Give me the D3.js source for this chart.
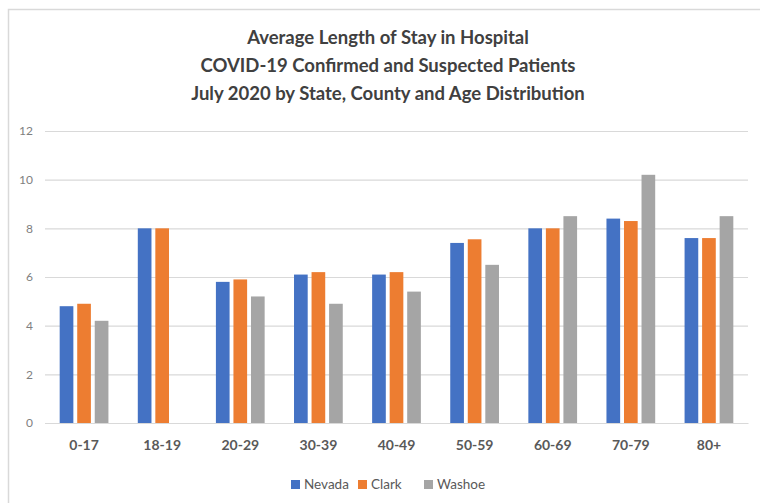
<!DOCTYPE html>
<html><head><meta charset="utf-8">
<script src="https://cdn.jsdelivr.net/npm/d3@7"></script>
<style>html,body{margin:0;padding:0;background:#fff;}svg{display:block;}</style>
</head><body>
<svg id="chart" width="760" height="503"></svg>
<script>
const categories = ["0-17","18-19","20-29","30-39","40-49","50-59","60-69","70-79","80+"];
const seriesNames = ["Nevada","Clark","Washoe"];
const nevada = [4.8, 8.0, 5.8, 6.1, 6.1, 7.4, 8.0, 8.4, 7.6];
const clark  = [4.9, 8.0, 5.9, 6.2, 6.2, 7.55, 8.0, 8.3, 7.6];
const washoe = [4.2, null, 5.2, 4.9, 5.4, 6.5, 8.5, 10.2, 8.5];
const yTicks = [0, 2, 4, 6, 8, 10, 12];
const titleLines = ["Average Length of Stay in Hospital","COVID-19 Confirmed and Suspected Patients","July 2020 by State, County and Age Distribution"];
const colors = ["#4472C4","#ED7D31","#A5A5A5"];

(function(){
const seriesValues = [nevada, clark, washoe];
const svg = d3.select("#chart");
const font = "Lato, 'Open Sans', sans-serif";

// chart border
svg.append("path").attr("d","M8.5,503 L8.5,9.5 L760,9.5").attr("fill","none").attr("stroke","#d9d9d9").attr("stroke-width",1.5);

const pLeft = 45, pRight = 748, pTop = 131, pBottom = 423;
const x0 = d3.scaleBand().domain(categories).range([pLeft, pRight]).paddingInner(0.376).paddingOuter(0.188);
const x1 = d3.scaleBand().domain(seriesNames).range([0, x0.bandwidth()]).paddingInner(0.22);
const y = d3.scaleLinear().domain([0, 12]).range([pBottom, pTop]);

// gridlines
const yAxis = d3.axisLeft(y).tickValues(yTicks).tickSize(-(pRight-pLeft)).tickPadding(12).tickFormat(d3.format("d"));
const gy = svg.append("g").attr("transform",`translate(${pLeft},0)`).call(yAxis);
gy.select(".domain").remove();
gy.selectAll(".tick line").attr("stroke","#d9d9d9").attr("stroke-width",1.2);
gy.selectAll(".tick text").attr("fill","#7f7f7f").attr("font-family",font).attr("font-size",12);

// bars
const groups = svg.append("g").selectAll("g").data(categories).join("g")
  .attr("transform", d => `translate(${x0(d)},0)`);
groups.selectAll("rect")
  .data((c, i) => seriesNames.map((s, k) => ({s, v: seriesValues[k][i], k})).filter(d => d.v != null))
  .join("rect")
  .attr("x", d => x1(d.s))
  .attr("width", x1.bandwidth())
  .attr("y", d => y(d.v))
  .attr("height", d => y(0) - y(d.v))
  .attr("fill", d => colors[d.k]);

// x axis baseline + labels
const xAxis = d3.axisBottom(x0).tickSize(0).tickPadding(17);
const gx = svg.append("g").attr("transform",`translate(0,${pBottom})`).call(xAxis);
gx.select(".domain").attr("stroke","#d9d9d9").attr("stroke-width",1.2);
gx.selectAll(".tick text").attr("fill","#595959").attr("font-family",font).attr("font-size",14).attr("font-weight",700);

// title
svg.append("g").selectAll("text").data(titleLines).join("text")
  .attr("x", 388).attr("y", (d, i) => 44 + i * 28)
  .attr("text-anchor","middle").attr("fill","#404040")
  .attr("font-family",font).attr("font-size",18.5).attr("font-weight",700)
  .text(d => d);

// legend
const legendX = [291, 358, 424];
const lg = svg.append("g").selectAll("g").data(seriesNames).join("g")
  .attr("transform", (d, i) => `translate(${legendX[i]},480)`);
lg.append("rect").attr("width",9).attr("height",9).attr("fill",(d,i)=>colors[i]);
lg.append("text").attr("x",13).attr("y",9).attr("fill","#595959")
  .attr("font-family",font).attr("font-size",13.5).text(d => d);
})();
</script>
</body></html>
